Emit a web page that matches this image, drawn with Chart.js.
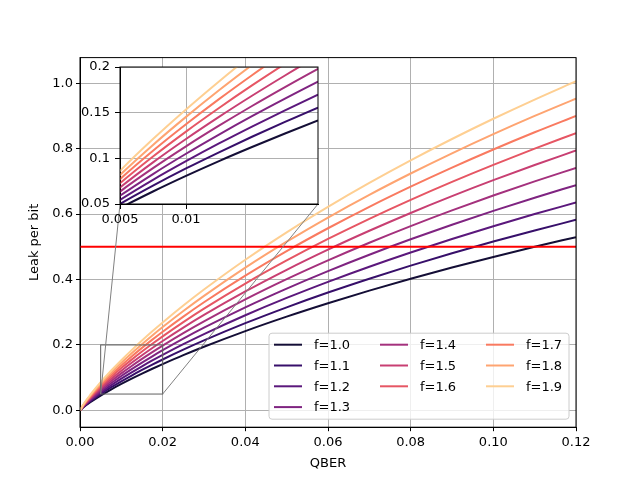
<!DOCTYPE html>
<html>
<head>
<meta charset="utf-8">
<script src="https://cdn.jsdelivr.net/npm/chart.js@4"></script>
<style>
body { margin: 0; background: #fff; }
#wrap { position: relative; width: 640px; height: 480px; }
#wrap canvas { position: absolute; left: 0; top: 0; }
</style>
</head>
<body>
<div id="wrap">
  <canvas id="mainChart" width="640" height="480"></canvas>
  <canvas id="insetChart" width="640" height="480"></canvas>
</div>
<script>
// QBER sample points (x)
const qber = [0, 0.001, 0.0025, 0.005, 0.0075, 0.01, 0.0125, 0.015, 0.0175, 0.02,
              0.025, 0.03, 0.04, 0.05, 0.06, 0.07, 0.08, 0.09, 0.10, 0.11, 0.12];

// leak per bit for each efficiency f
const leak10 = [0, 0.0114, 0.0252, 0.0454, 0.0637, 0.0808, 0.0970, 0.1124, 0.1272, 0.1414, 0.1687, 0.1944, 0.2423, 0.2864, 0.3274, 0.3659, 0.4022, 0.4365, 0.4690, 0.4999, 0.5294];
const leak11 = [0, 0.0126, 0.0277, 0.0500, 0.0701, 0.0889, 0.1066, 0.1236, 0.1399, 0.1556, 0.1855, 0.2138, 0.2665, 0.3150, 0.3602, 0.4025, 0.4424, 0.4801, 0.5159, 0.5499, 0.5823];
const leak12 = [0, 0.0137, 0.0303, 0.0545, 0.0765, 0.0969, 0.1163, 0.1348, 0.1526, 0.1697, 0.2024, 0.2333, 0.2907, 0.3437, 0.3929, 0.4391, 0.4826, 0.5238, 0.5628, 0.5999, 0.6352];
const leak13 = [0, 0.0148, 0.0328, 0.0590, 0.0828, 0.1050, 0.1260, 0.1461, 0.1653, 0.1839, 0.2193, 0.2527, 0.3150, 0.3723, 0.4257, 0.4757, 0.5228, 0.5674, 0.6097, 0.6499, 0.6882];
const leak14 = [0, 0.0160, 0.0353, 0.0636, 0.0892, 0.1131, 0.1357, 0.1573, 0.1780, 0.1980, 0.2361, 0.2721, 0.3392, 0.4010, 0.4584, 0.5123, 0.5631, 0.6111, 0.6566, 0.6999, 0.7411];
const leak15 = [0, 0.0171, 0.0378, 0.0681, 0.0956, 0.1212, 0.1454, 0.1685, 0.1907, 0.2122, 0.2530, 0.2916, 0.3634, 0.4296, 0.4912, 0.5489, 0.6033, 0.6547, 0.7035, 0.7499, 0.7940];
const leak16 = [0, 0.0183, 0.0403, 0.0727, 0.1020, 0.1293, 0.1551, 0.1798, 0.2035, 0.2263, 0.2699, 0.3110, 0.3877, 0.4582, 0.5239, 0.5855, 0.6435, 0.6984, 0.7504, 0.7999, 0.8470];
const leak17 = [0, 0.0194, 0.0429, 0.0772, 0.1083, 0.1373, 0.1648, 0.1910, 0.2162, 0.2404, 0.2867, 0.3305, 0.4119, 0.4869, 0.5566, 0.6221, 0.6837, 0.7420, 0.7973, 0.8499, 0.8999];
const leak18 = [0, 0.0205, 0.0454, 0.0818, 0.1147, 0.1454, 0.1745, 0.2022, 0.2289, 0.2546, 0.3036, 0.3499, 0.4361, 0.5155, 0.5894, 0.6587, 0.7239, 0.7856, 0.8442, 0.8999, 0.9528];
const leak19 = [0, 0.0217, 0.0479, 0.0863, 0.1211, 0.1535, 0.1842, 0.2135, 0.2416, 0.2687, 0.3205, 0.3693, 0.4604, 0.5442, 0.6221, 0.6952, 0.7641, 0.8293, 0.8911, 0.9498, 1.0058];

const seriesLabels = ['f=1.0', 'f=1.1', 'f=1.2', 'f=1.3', 'f=1.4', 'f=1.5', 'f=1.6', 'f=1.7', 'f=1.8', 'f=1.9'];
const seriesValues = [leak10, leak11, leak12, leak13, leak14, leak15, leak16, leak17, leak18, leak19];
const seriesColors = ['#140e36', '#370f6a', '#5b187c', '#7f2481', '#a4317d',
                      '#c83f72', '#e65664', '#f97a60', '#fea471', '#fecf92'];

const leakLimit = 0.5;          // red threshold line
const xRange = [0, 0.12];
const yRange = [-0.0513, 1.078];
const xTicks = [0, 0.02, 0.04, 0.06, 0.08, 0.10, 0.12];
const yTicks = [0, 0.2, 0.4, 0.6, 0.8, 1.0];

// zoomed region shown in the inset
const insetX = [0.005, 0.02];
const insetY = [0.05, 0.2];
const insetXTicks = [0.005, 0.01];
const insetYTicks = [0.05, 0.1, 0.15, 0.2];

Chart.defaults.font.family = 'DejaVu Sans';
Chart.defaults.font.size = 13;
Chart.defaults.color = '#000';

function makeDatasets() {
    return seriesValues.map((vals, i) => ({
        label: seriesLabels[i],
        data: qber.map((q, j) => ({ x: q, y: vals[j] })),
        borderColor: seriesColors[i],
        backgroundColor: seriesColors[i],
        borderWidth: 2,
        pointRadius: 0,
        cubicInterpolationMode: 'monotone',
        order: -i
    }));
}

// ---- inset (drawn on the canvas above) ----
const insetDecor = {
    id: 'insetDecor',
    beforeDraw(chart) {
        const a = chart.chartArea;
        chart.ctx.save();
        chart.ctx.fillStyle = '#fff';
        chart.ctx.fillRect(a.left, a.top, a.right - a.left, a.bottom - a.top);
        chart.ctx.restore();
    },
    afterDraw(chart) {
        const a = chart.chartArea;
        const ctx = chart.ctx;
        ctx.save();
        ctx.strokeStyle = '#000';
        ctx.lineWidth = 1;
        ctx.strokeRect(a.left, a.top, a.right - a.left, a.bottom - a.top);
        ctx.restore();
    }
};

const insetChart = new Chart(document.getElementById('insetChart'), {
    type: 'line',
    data: { datasets: makeDatasets() },
    options: {
        responsive: false,
        devicePixelRatio: 1,
        animation: false,
        events: [],
        layout: { padding: { top: 67, right: 322, bottom: 0, left: 0 } },
        plugins: { legend: { display: false }, tooltip: { enabled: false } },
        scales: {
            x: {
                type: 'linear', min: insetX[0], max: insetX[1],
                afterBuildTicks: s => { s.ticks = insetXTicks.map(v => ({ value: v })); },
                afterFit: s => { s.height = 276; },
                ticks: { padding: 3, maxRotation: 0, callback: v => String(v) },
                grid: { color: '#b0b0b0', lineWidth: 1, tickColor: '#000', tickLength: 5 },
                border: { color: '#000' }
            },
            y: {
                type: 'linear', min: insetY[0], max: insetY[1],
                afterBuildTicks: s => { s.ticks = insetYTicks.map(v => ({ value: v })); },
                afterFit: s => { s.width = 120; },
                ticks: { padding: 5, callback: v => String(v) },
                grid: { color: '#b0b0b0', lineWidth: 1, tickColor: '#000', tickLength: 5 },
                border: { color: '#000' }
            }
        }
    },
    plugins: [insetDecor]
});

// ---- main chart ----
const mainDecor = {
    id: 'mainDecor',
    afterDatasetsDraw(chart) {
        const ctx = chart.ctx;
        const { x, y } = chart.scales;
        const x0 = x.getPixelForValue(insetX[0]), x1 = x.getPixelForValue(insetX[1]);
        const y0 = y.getPixelForValue(insetY[0]), y1 = y.getPixelForValue(insetY[1]);
        const ia = insetChart.chartArea;
        ctx.save();
        ctx.lineWidth = 1;
        ctx.strokeStyle = '#606060';
        ctx.strokeRect(x0, y1, x1 - x0, y0 - y1);
        ctx.strokeStyle = '#808080';
        ctx.beginPath();
        ctx.moveTo(x0, y0); ctx.lineTo(ia.left, ia.bottom);
        ctx.moveTo(x1, y0); ctx.lineTo(ia.right, ia.bottom);
        ctx.stroke();
        ctx.restore();
    },
    afterDraw(chart) {
        const ctx = chart.ctx;
        const a = chart.chartArea;
        ctx.save();
        ctx.strokeStyle = '#000';
        ctx.lineWidth = 1;
        ctx.strokeRect(a.left, a.top, a.right - a.left, a.bottom - a.top);

        // legend, 3 columns filled column by column, lower right
        const items = chart.data.datasets.filter(d => d.label);
        const ncol = 3;
        const boxW = 300, boxH = 86;
        const bx = a.right - 7 - boxW, by = a.bottom - 8 - boxH;
        ctx.fillStyle = 'rgba(255,255,255,0.8)';
        ctx.strokeStyle = '#cccccc';
        ctx.beginPath();
        ctx.roundRect(bx, by, boxW, boxH, 3);
        ctx.fill();
        ctx.stroke();
        ctx.font = '13px "DejaVu Sans"';
        ctx.textBaseline = 'middle';
        ctx.textAlign = 'left';
        const perCol = [];
        let rest = items.length;
        for (let c = 0; c < ncol; c++) {
            const n = Math.ceil(rest / (ncol - c));
            perCol.push(n);
            rest -= n;
        }
        let k = 0;
        perCol.forEach((n, c) => {
            for (let r = 0; r < n; r++, k++) {
                const d = items[k];
                const lx = bx + 5 + c * 106;
                const ly = by + 11.5 + r * 20.8;
                ctx.strokeStyle = d.borderColor;
                ctx.lineWidth = 2;
                ctx.beginPath();
                ctx.moveTo(lx, ly); ctx.lineTo(lx + 28, ly);
                ctx.stroke();
                ctx.fillStyle = '#000';
                ctx.fillText(d.label, lx + 40, ly + 1);
            }
        });
        ctx.restore();
    }
};

const mainSets = makeDatasets();
mainSets.push({
    label: '',
    data: [{ x: xRange[0], y: leakLimit }, { x: xRange[1], y: leakLimit }],
    borderColor: '#ff0000',
    borderWidth: 2,
    pointRadius: 0,
    order: -100
});

new Chart(document.getElementById('mainChart'), {
    type: 'line',
    data: { datasets: mainSets },
    options: {
        responsive: false,
        devicePixelRatio: 1,
        animation: false,
        events: [],
        layout: { padding: { top: 57.6, right: 64, bottom: 0, left: 0 } },
        plugins: { legend: { display: false }, tooltip: { enabled: false } },
        scales: {
            x: {
                type: 'linear', min: xRange[0], max: xRange[1],
                afterBuildTicks: s => { s.ticks = xTicks.map(v => ({ value: v })); },
                afterFit: s => { s.height = 52.8; },
                ticks: { padding: 4, maxRotation: 0, callback: v => v.toFixed(2) },
                grid: { color: '#b0b0b0', lineWidth: 1, tickColor: '#000', tickLength: 4 },
                border: { color: '#000' },
                title: { display: true, text: 'QBER', padding: { top: 0, bottom: 9 } }
            },
            y: {
                type: 'linear', min: yRange[0], max: yRange[1],
                afterBuildTicks: s => { s.ticks = yTicks.map(v => ({ value: v })); },
                afterFit: s => { s.width = 80; },
                ticks: { padding: 3, callback: v => v.toFixed(1) },
                grid: { color: '#b0b0b0', lineWidth: 1, tickColor: '#000', tickLength: 4 },
                border: { color: '#000' },
                title: { display: true, text: 'Leak per bit', padding: { top: 27, bottom: 0 } }
            }
        }
    },
    plugins: [mainDecor]
});
</script>
</body>
</html>
